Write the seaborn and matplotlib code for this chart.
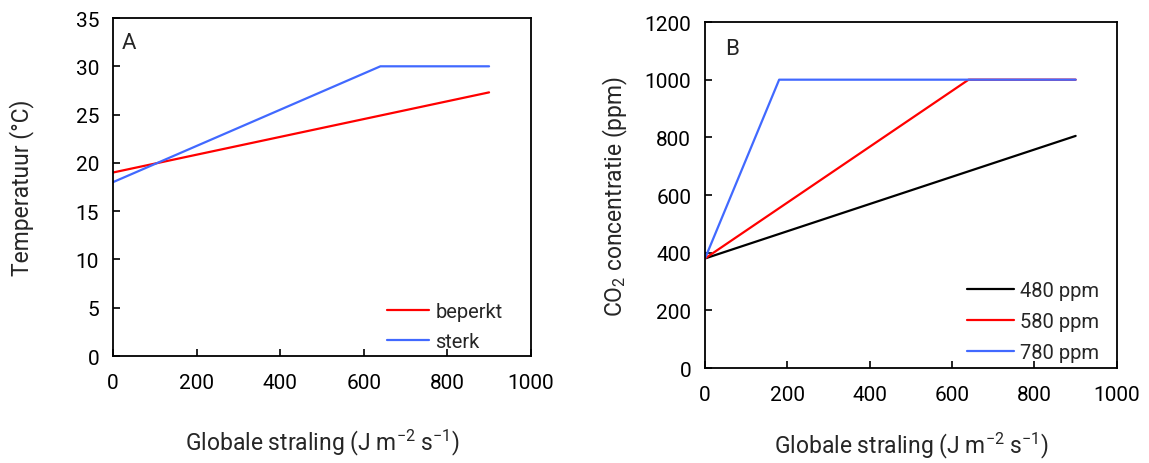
import matplotlib
matplotlib.use("Agg")
import matplotlib.pyplot as plt
import seaborn as sns
import pandas as pd

sns.set_theme(style="white")
plt.rcParams['font.family'] = ['Roboto', 'DejaVu Sans']
plt.rcParams['mathtext.default'] = 'regular'

# Panel A data
a_x_beperkt = [0, 900]
a_y_beperkt = [19.0, 27.3]
a_x_sterk = [0, 640, 900]
a_y_sterk = [18.0, 30.0, 30.0]
a_labels = ["beperkt", "sterk"]

# Panel B data
b_x_480 = [0, 900]
b_y_480 = [380, 805]
b_x_580 = [0, 640, 900]
b_y_580 = [380, 1000, 1000]
b_x_780 = [0, 180, 900]
b_y_780 = [380, 1000, 1000]
b_labels = ["480 ppm", "580 ppm", "780 ppm"]

RED = "#FF0000"
BLUE = "#4169FF"
BLACK = "#000000"

dfA = pd.concat([
    pd.DataFrame({"x": a_x_beperkt, "y": a_y_beperkt, "s": a_labels[0]}),
    pd.DataFrame({"x": a_x_sterk, "y": a_y_sterk, "s": a_labels[1]}),
])
dfB = pd.concat([
    pd.DataFrame({"x": b_x_480, "y": b_y_480, "s": b_labels[0]}),
    pd.DataFrame({"x": b_x_580, "y": b_y_580, "s": b_labels[1]}),
    pd.DataFrame({"x": b_x_780, "y": b_y_780, "s": b_labels[2]}),
])

fig = plt.figure(figsize=(11.49, 4.64), dpi=100)
axA = fig.add_axes([0.0983, 0.2306, 0.3637, 0.7284])
axB = fig.add_axes([0.6136, 0.2047, 0.3584, 0.7457])

sns.lineplot(data=dfA, x="x", y="y", hue="s", palette=[RED, BLUE], ax=axA,
             linewidth=1.6, sort=False, estimator=None)
sns.lineplot(data=dfB, x="x", y="y", hue="s", palette=[BLACK, RED, BLUE], ax=axB,
             linewidth=1.6, sort=False, estimator=None)

xlab = "Globale straling (J m$^{-2}$ s$^{-1}$)"
axA.set_xlim(0, 1000); axA.set_ylim(0, 35)
axA.set_xticks([0, 200, 400, 600, 800, 1000])
axA.set_yticks(range(0, 36, 5))
axA.set_xlabel(xlab, fontsize=16.5, labelpad=25)
axA.set_ylabel("Temperatuur (°C)", fontsize=16.5, labelpad=30)
axA.text(0.02, 0.96, "A", transform=axA.transAxes, fontsize=16, va="top", ha="left")

axB.set_xlim(0, 1000); axB.set_ylim(0, 1200)
axB.set_xticks([0, 200, 400, 600, 800, 1000])
axB.set_yticks(range(0, 1201, 200))
axB.set_xlabel(xlab, fontsize=16.5, labelpad=19)
axB.set_ylabel("CO$_2$ concentratie (ppm)", fontsize=16.5, labelpad=10)
axB.text(0.05, 0.955, "B", transform=axB.transAxes, fontsize=16, va="top", ha="left")

for ax in (axA, axB):
    for sp in ax.spines.values():
        sp.set_color("black"); sp.set_linewidth(1.3); sp.set_visible(True)
    ax.tick_params(direction="in", length=5, width=1.2, colors="black",
                   labelsize=15, left=True, bottom=True)
    ax.tick_params(axis="x", pad=12)
    ax.tick_params(axis="y", pad=10)
    ax.grid(False)

axA.legend(loc="lower right", frameon=False, fontsize=14.5, handlelength=2.1,
           handletextpad=0.3, labelspacing=0.55, bbox_to_anchor=(0.975, -0.04))
axB.legend(loc="lower right", frameon=False, fontsize=14.5, handlelength=2.3,
           handletextpad=0.3, labelspacing=0.6, bbox_to_anchor=(1.0, -0.035))

fig.savefig("out.png", dpi=100)
